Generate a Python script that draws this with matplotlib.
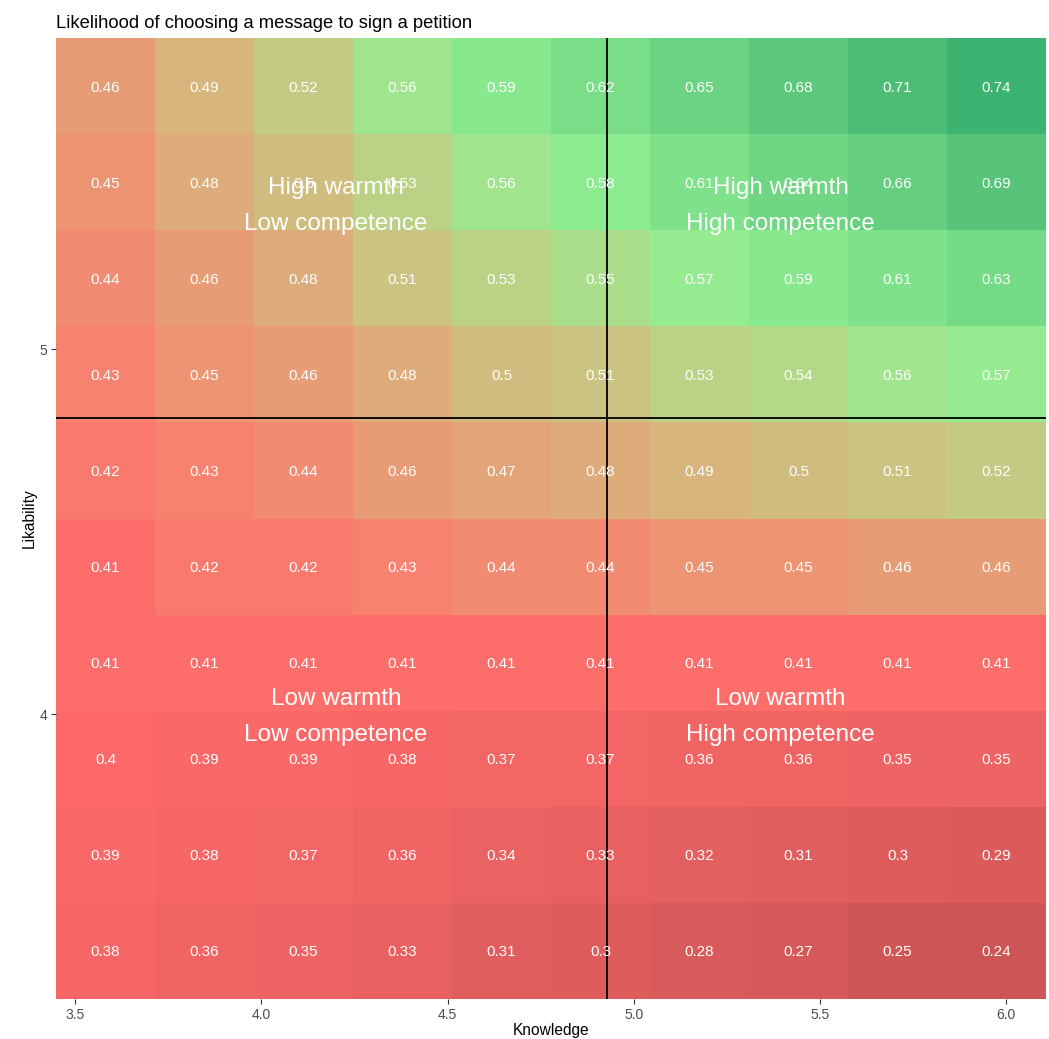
import numpy as np
import matplotlib
matplotlib.use("Agg")
import matplotlib.pyplot as plt
from matplotlib.colors import ListedColormap, Normalize, to_rgb

plt.rcParams['font.family'] = ['Liberation Sans', 'DejaVu Sans']

# tile centres
knowledge = [3.581, 3.847, 4.113, 4.379, 4.645, 4.911, 5.177, 5.443, 5.709, 5.975]
likability = [3.352, 3.615, 3.878, 4.141, 4.405, 4.668, 4.931, 5.195, 5.458, 5.721]

# predicted likelihood, rows from lowest likability to highest
prob = [
    [0.38, 0.36, 0.35, 0.33, 0.31, 0.3, 0.28, 0.27, 0.25, 0.24],
    [0.39, 0.38, 0.37, 0.36, 0.34, 0.33, 0.32, 0.31, 0.3, 0.29],
    [0.4, 0.39, 0.39, 0.38, 0.37, 0.37, 0.36, 0.36, 0.35, 0.35],
    [0.41, 0.41, 0.41, 0.41, 0.41, 0.41, 0.41, 0.41, 0.41, 0.41],
    [0.41, 0.42, 0.42, 0.43, 0.44, 0.44, 0.45, 0.45, 0.46, 0.46],
    [0.42, 0.43, 0.44, 0.46, 0.47, 0.48, 0.49, 0.5, 0.51, 0.52],
    [0.43, 0.45, 0.46, 0.48, 0.5, 0.51, 0.53, 0.54, 0.56, 0.57],
    [0.44, 0.46, 0.48, 0.51, 0.53, 0.55, 0.57, 0.59, 0.61, 0.63],
    [0.45, 0.48, 0.5, 0.53, 0.56, 0.58, 0.61, 0.64, 0.66, 0.69],
    [0.46, 0.49, 0.52, 0.56, 0.59, 0.62, 0.65, 0.68, 0.71, 0.74],
]

mean_knowledge = 4.929
mean_likability = 4.811

quadrants = [
    (4.2, 5.393, "High warmth\nLow competence"),
    (5.395, 5.393, "High warmth\nHigh competence"),
    (4.2, 3.993, "Low warmth\nLow competence"),
    (5.395, 3.993, "Low warmth\nHigh competence"),
]

palette = ["#CD5555", "#FF6A6A", "#90EE90", "#3CB371"]


# colour ramp interpolated in CIE Lab, like scales::gradient_n_pal
def rgb2lab(c):
    c = np.asarray(c, float)
    lin = np.where(c <= 0.04045, c / 12.92, ((c + 0.055) / 1.055) ** 2.4)
    m = np.array([[0.4124, 0.3576, 0.1805],
                  [0.2126, 0.7152, 0.0722],
                  [0.0193, 0.1192, 0.9505]])
    xyz = m @ lin / np.array([0.95047, 1.0, 1.08883])
    f = np.where(xyz > 0.008856, np.cbrt(xyz), 7.787 * xyz + 16 / 116)
    return np.array([116 * f[1] - 16, 500 * (f[0] - f[1]), 200 * (f[1] - f[2])])


def lab2rgb(lab):
    L, a, b = lab
    fy = (L + 16) / 116
    fx = fy + a / 500
    fz = fy - b / 200
    f = np.array([fx, fy, fz])
    xyz = np.where(f > 0.2069, f ** 3, (f - 16 / 116) / 7.787)
    xyz = xyz * np.array([0.95047, 1.0, 1.08883])
    minv = np.array([[3.2406, -1.5372, -0.4986],
                     [-0.9689, 1.8758, 0.0415],
                     [0.0557, -0.2040, 1.0570]])
    lin = minv @ xyz
    lin = np.clip(lin, 0, 1)
    c = np.where(lin <= 0.0031308, 12.92 * lin, 1.055 * lin ** (1 / 2.4) - 0.055)
    return np.clip(c, 0, 1)


labs = [rgb2lab(to_rgb(p)) for p in palette]
stops = np.linspace(0, 1, len(palette))
ramp = []
for t in np.linspace(0, 1, 256):
    i = min(np.searchsorted(stops, t, side='right') - 1, len(palette) - 2)
    w = (t - stops[i]) / (stops[i + 1] - stops[i])
    ramp.append(lab2rgb(labs[i] * (1 - w) + labs[i + 1] * w))
cmap = ListedColormap(ramp)

z = np.array(prob)
norm = Normalize(vmin=z.min(), vmax=z.max())


def edges(c):
    c = np.asarray(c)
    mid = (c[1:] + c[:-1]) / 2
    return np.concatenate([[c[0] - (mid[0] - c[0])], mid, [c[-1] + (c[-1] - mid[-1])]])


xe = edges(knowledge)
ye = edges(likability)

fig = plt.figure(figsize=(10.49, 10.39), dpi=100)
ax = fig.add_axes([0.0534, 0.0385, 0.9437, 0.9249])
ax.pcolormesh(xe, ye, z, cmap=cmap, norm=norm, antialiased=False, linewidth=0)

for i, yv in enumerate(likability):
    for j, xv in enumerate(knowledge):
        ax.text(xv, yv, "%g" % prob[i][j], color='white', fontsize=11,
                ha='center', va='center_baseline')

ax.axvline(mean_knowledge, color='black', lw=1.3)
ax.axhline(mean_likability, color='black', lw=1.3)

for qx, qy, label in quadrants:
    ax.text(qx, qy, label, color='white', fontsize=17.5, ha='center',
            va='center', linespacing=1.8)

ax.set_xlim(xe[0], xe[-1])
ax.set_ylim(ye[0], ye[-1])
ax.set_xticks([3.5, 4.0, 4.5, 5.0, 5.5, 6.0])
ax.set_xticklabels(["3.5", "4.0", "4.5", "5.0", "5.5", "6.0"])
ax.set_yticks([4, 5])
for s in ax.spines.values():
    s.set_visible(False)
ax.tick_params(length=3.5, width=0.8, color='#333333', labelcolor='#4D4D4D',
               labelsize=10, pad=3)
ax.set_xlabel("Knowledge", fontsize=11.2, labelpad=1)
ax.set_ylabel("Likability", fontsize=11.2, labelpad=2)
ax.set_title("Likelihood of choosing a message to sign a petition",
             loc='left', fontsize=13.2, pad=7)

fig.savefig("out.png", dpi=100)
